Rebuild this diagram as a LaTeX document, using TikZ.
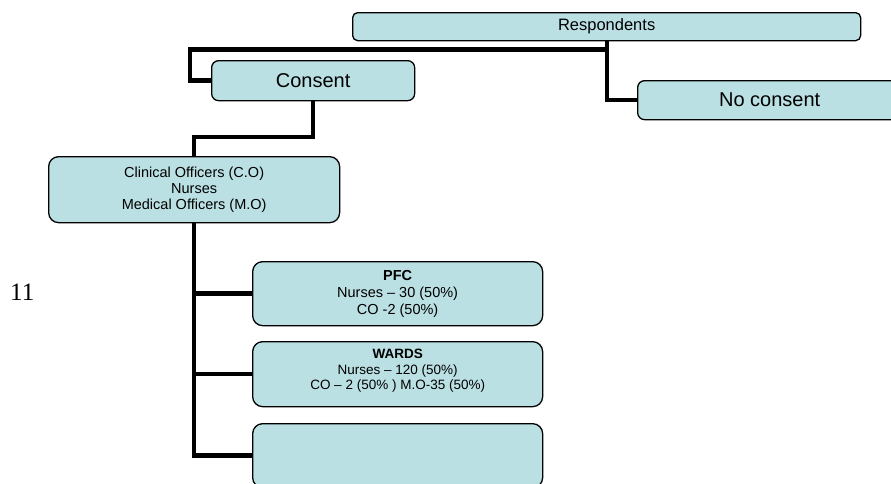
\documentclass[tikz,border=0pt]{standalone}
\usepackage{fontspec}
\setmainfont{Liberation Sans}
\newfontfamily\timesfont{Liberation Serif}
\usetikzlibrary{backgrounds}
\definecolor{boxfill}{RGB}{187,224,227}
\begin{document}
\begin{tikzpicture}[x=1pt,y=-1pt,
  box/.style={draw=black, line width=1.3pt, fill=boxfill, anchor=north west, inner sep=0pt, align=center},
  conn/.style={draw=black, line width=4.5pt, line join=miter}]
\useasboundingbox (0,0) rectangle (891,483);
\node[box, rounded corners=5pt, minimum width=508pt, minimum height=28pt,
  font=\fontsize{16.5}{19}\selectfont] (resp) at (352,12) {Respondents};
\node[box, rounded corners=7pt, minimum width=203pt, minimum height=40pt,
  font=\fontsize{20}{23}\selectfont] (consent) at (211,60) {Consent};
\node[box, rounded corners=7pt, minimum width=264pt, minimum height=39pt,
  font=\fontsize{20}{23}\selectfont] (nocons) at (637,80) {No consent};
\node[box, rounded corners=10pt, minimum width=291pt, minimum height=66pt,
  font=\fontsize{14.5}{16.3}\selectfont] (clin) at (48,156)
  {Clinical Officers (C.O)\\Nurses\\Medical Officers (M.O)};
\node[box, rounded corners=10pt, minimum width=290pt, minimum height=64pt,
  font=\fontsize{14.5}{17}\selectfont] (pfc) at (252,261)
  {\textbf{PFC}\\Nurses – 30 (50\%)\\CO -2 (50\%)};
\node[box, rounded corners=10pt, minimum width=290pt, minimum height=65pt,
  font=\fontsize{13.5}{15.5}\selectfont] (wards) at (252,341)
  {\textbf{WARDS}\\Nurses – 120 (50\%)\\CO – 2 (50\% ) M.O-35 (50\%)\\[-6pt]};
\node[box, rounded corners=10pt, minimum width=290pt, minimum height=64pt] (empty) at (252,423) {};
\node[anchor=base west, inner sep=0pt, font=\timesfont\fontsize{25}{28}\selectfont] (num) at (10,300) {11};
\begin{scope}[on background layer]
  \coordinate (jr) at (607,49.5);
  \coordinate (jl) at (190,49.5);
  \coordinate (jc) at (194,137);
  \draw[conn] (resp.south -| jr) -- (jr |- nocons.west) -- (nocons.west);
  \draw[conn] (jr) -- (jl) -- (jl |- consent.west) -- (consent.west);
  \draw[conn] (consent.south) -- (consent.south |- jc) -- (clin.north |- jc) -- (clin.north);
  \draw[conn] (clin.south) -- (clin.south |- empty.west) -- (empty.west);
  \draw[conn] (clin.south |- pfc.west) -- (pfc.west);
  \draw[conn] (clin.south |- wards.west) -- (wards.west);
\end{scope}
\end{tikzpicture}
\end{document}
